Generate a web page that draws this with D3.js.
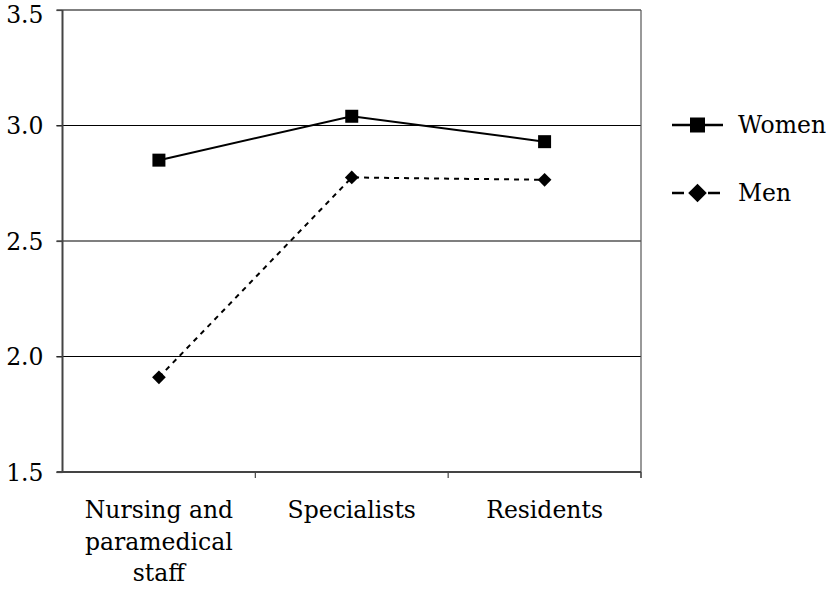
<!DOCTYPE html>
<html><head><meta charset="utf-8">
<script src="https://cdn.jsdelivr.net/npm/d3@7"></script>
<style>body{margin:0;background:#fff}svg{display:block}text{font-family:"DejaVu Serif",serif;fill:#000}</style>
</head><body><svg id="c" width="836" height="590"></svg>
<script>
const categories = [["Nursing and","paramedical","staff"],["Specialists"],["Residents"]];
const categoryKeys = ["Nursing and paramedical staff","Specialists","Residents"];
const women = [2.85, 3.04, 2.93];
const men = [1.91, 2.775, 2.765];
const yTicks = [1.5, 2.0, 2.5, 3.0, 3.5];
const seriesNames = ["Women","Men"];

const svg = d3.select("#c");
const L=62.5, R=641, T=10, B=472;
const x = d3.scaleBand().domain(categoryKeys).range([L,R]);
const y = d3.scaleLinear().domain([1.5,3.5]).range([B,T]);
const fs = 23.5;

// gridlines (with left ticks)
svg.append("g").selectAll("line").data(yTicks.filter(d=>d>1.5)).join("line")
  .attr("x1",L-6).attr("x2",R).attr("y1",d=>y(d)).attr("y2",d=>y(d))
  .attr("stroke","#000").attr("stroke-width",1.2);
// right border
svg.append("line").attr("x1",R).attr("x2",R).attr("y1",T).attr("y2",B+6)
  .attr("stroke","#555").attr("stroke-width",1.2);
// y axis
const yAxis = d3.axisLeft(y).tickValues(yTicks).tickFormat(d3.format(".1f")).tickSize(6).tickPadding(13);
const gy = svg.append("g").attr("transform",`translate(${L},0)`).call(yAxis);
gy.select(".domain").attr("stroke","#444").attr("stroke-width",2).attr("d",`M0,${T}V${B}`);
gy.selectAll(".tick line").attr("stroke","#444").attr("stroke-width",1.2);
gy.selectAll(".tick text").attr("font-size",fs).attr("font-family","DejaVu Serif").attr("fill","#000")
  .attr("dy",d=>d===3.5?"0.52em":"0.36em");
// x axis
const gx = svg.append("g").attr("transform",`translate(0,${B})`);
gx.append("line").attr("x1",L-6).attr("x2",R).attr("y1",0).attr("y2",0).attr("stroke","#444").attr("stroke-width",2);
const bounds = categoryKeys.map(k=>x(k)+x.bandwidth());
gx.selectAll("line.t").data(bounds).join("line").attr("class","t")
  .attr("x1",d=>d).attr("x2",d=>d).attr("y1",0).attr("y2",6).attr("stroke","#444").attr("stroke-width",1.2);
categoryKeys.forEach((k,i)=>{
  const t = gx.append("text").attr("text-anchor","middle").attr("font-size",fs)
    .attr("x",x(k)+x.bandwidth()/2).attr("y",46);
  categories[i].forEach((ln,j)=>t.append("tspan").attr("x",x(k)+x.bandwidth()/2).attr("y",46+j*31.5).text(ln));
});

const cx = (d,i)=>x(categoryKeys[i])+x.bandwidth()/2;
const line = d3.line().x(cx).y(d=>y(d));
svg.append("path").attr("d",line(women)).attr("fill","none").attr("stroke","#000").attr("stroke-width",2);
svg.append("path").attr("d",line(men)).attr("fill","none").attr("stroke","#000").attr("stroke-width",2).attr("stroke-dasharray","5,5");
const sq = d3.symbol().type(d3.symbolSquare).size(169);
const dm = d3.symbol().type(d3.symbolDiamond2).size(120);
svg.append("g").selectAll("path").data(women).join("path")
  .attr("transform",(d,i)=>`translate(${cx(d,i)},${y(d)})`).attr("d",sq).attr("fill","#000");
svg.append("g").selectAll("path").data(men).join("path")
  .attr("transform",(d,i)=>`translate(${cx(d,i)},${y(d)})`).attr("d",dm).attr("fill","#000");

// legend
const lg = svg.append("g");
const rows = [{n:seriesNames[0],y:125,dash:null,sym:d3.symbol().type(d3.symbolSquare).size(225)},
              {n:seriesNames[1],y:193,dash:"12,6",sym:d3.symbol().type(d3.symbolDiamond2).size(220)}];
rows.forEach(r=>{
  lg.append("line").attr("x1",672).attr("x2",723).attr("y1",r.y).attr("y2",r.y).attr("stroke","#000").attr("stroke-width",2.5)
    .attr("stroke-dasharray",r.dash);
  lg.append("path").attr("transform",`translate(697.5,${r.y})`).attr("d",r.sym).attr("fill","#000");
  lg.append("text").attr("x",738).attr("y",r.y).attr("dy","0.36em").attr("font-size",fs).text(r.n);
});
</script></body></html>
